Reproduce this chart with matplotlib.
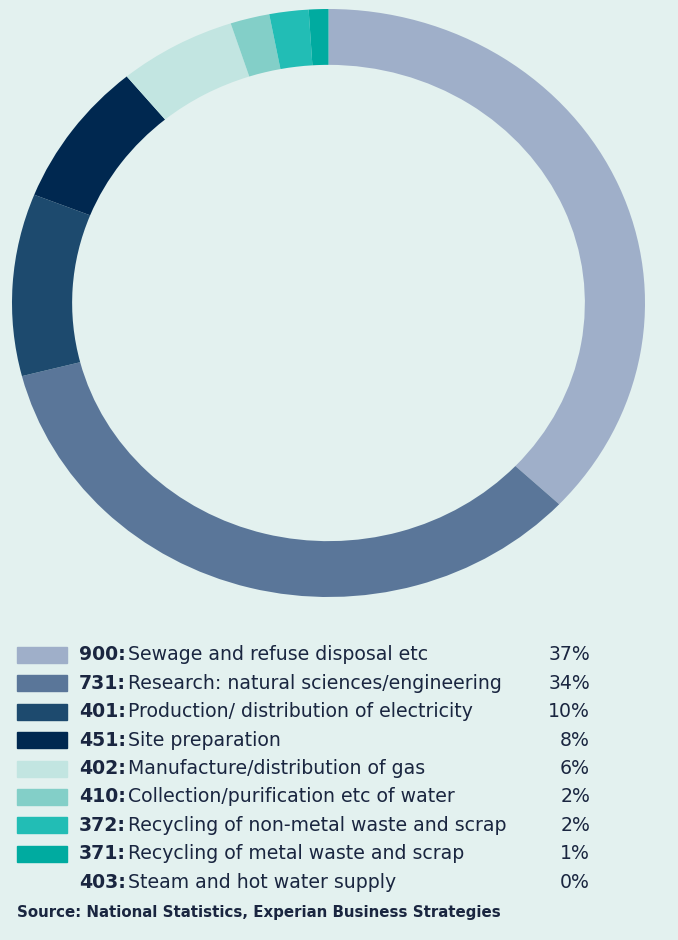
import matplotlib.pyplot as plt
from matplotlib.patches import Rectangle
from matplotlib import font_manager

codes = ["900", "731", "401", "451", "402", "410", "372", "371", "403"]
labels = [
    "Sewage and refuse disposal etc",
    "Research: natural sciences/engineering",
    "Production/ distribution of electricity",
    "Site preparation",
    "Manufacture/distribution of gas",
    "Collection/purification etc of water",
    "Recycling of non-metal waste and scrap",
    "Recycling of metal waste and scrap",
    "Steam and hot water supply",
]
shares = [37, 34, 10, 8, 6, 2, 2, 1, 0]
colors = ["#9fafc9", "#5a7699", "#1d4a6e", "#002850", "#c2e5e1",
          "#83cfc8", "#22bdb5", "#00aba0", None]
source = "Source: National Statistics, Experian Business Strategies"

BG = "#e3f1ef"
TXT = "#1a2640"

names = {f.name for f in font_manager.fontManager.ttflist}
font = "Liberation Sans Narrow" if "Liberation Sans Narrow" in names else "DejaVu Sans"
plt.rcParams["font.family"] = [font, "DejaVu Sans"]

W, H = 678, 940
fig = plt.figure(figsize=(W / 100, H / 100), dpi=100, facecolor=BG)

# donut, drawn slightly wider than tall like the original
ax = fig.add_axes([12 / W, 1 - 597 / H, 633 / W, 588 / H])
ax.set_facecolor(BG)
vals = [v for v in shares if v > 0]
cols = [c for v, c in zip(shares, colors) if v > 0]
ax.pie(vals, colors=cols, startangle=90, counterclock=False,
       wedgeprops=dict(width=0.19, edgecolor="none", linewidth=0))
ax.set_aspect("auto")
ax.set_xlim(-1, 1)
ax.set_ylim(-1, 1)
ax.axis("off")

# legend
renderer = fig.canvas.get_renderer()
y0, dy = 655, 28.4
fs = 13.6
for i, (code, lab, v, c) in enumerate(zip(codes, labels, shares, colors)):
    y = y0 + i * dy
    if c is not None:
        fig.patches.append(Rectangle((17 / W, 1 - (y + 8) / H), 50 / W, 16 / H,
                                     transform=fig.transFigure, color=c,
                                     figure=fig))
    t = fig.text(79 / W, 1 - y / H, code + ":", fontsize=fs, weight="bold",
                 color=TXT, va="center", ha="left")
    bb = t.get_window_extent(renderer)
    fig.text((bb.x1 + 2) / W, 1 - y / H, lab, fontsize=fs, color=TXT,
             va="center", ha="left")
    fig.text(590 / W, 1 - y / H, f"{v}%", fontsize=fs, color=TXT,
             va="center", ha="right")

fig.text(17 / W, 1 - 912 / H, source, fontsize=10.8, weight="semibold",
         color=TXT, va="center", ha="left")

fig.savefig("out.png", dpi=100, facecolor=BG)
